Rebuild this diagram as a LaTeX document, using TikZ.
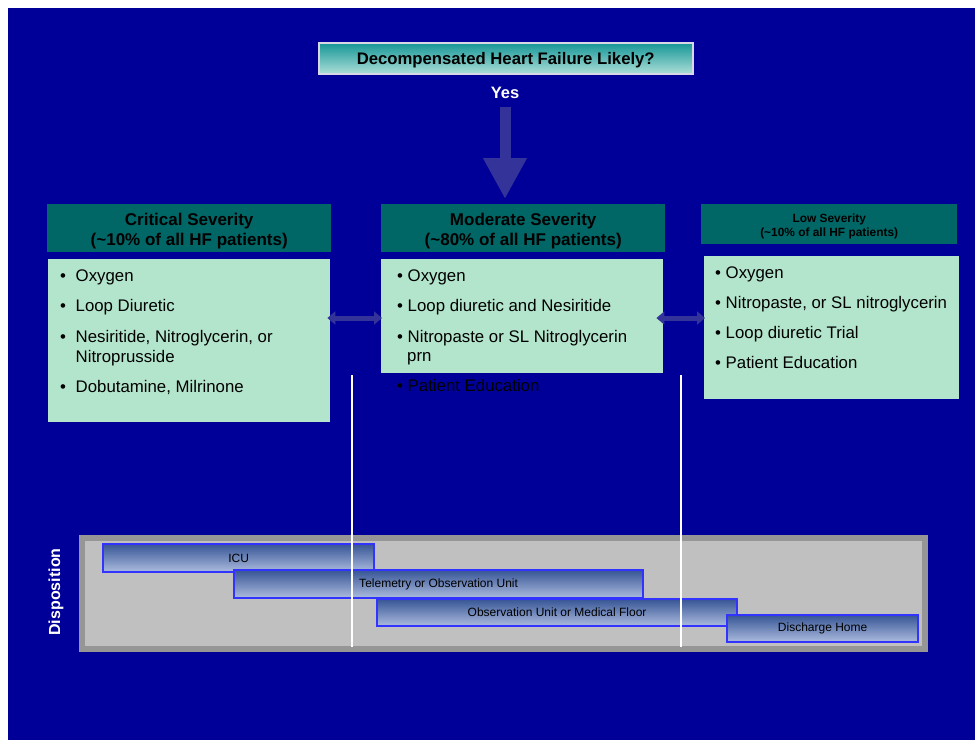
\documentclass[tikz,border=0pt]{standalone}
\usepackage{fontspec}
\setmainfont{Liberation Sans}
\usetikzlibrary{arrows.meta}
\definecolor{bgblue}{RGB}{0,0,153}
\definecolor{hdrteal}{RGB}{0,102,102}
\definecolor{mint}{RGB}{179,229,204}
\definecolor{arrcol}{RGB}{51,51,153}
\definecolor{barblue}{RGB}{51,51,255}
\definecolor{bartop}{RGB}{55,85,150}
\definecolor{barbot}{RGB}{172,188,222}
\definecolor{toptop}{RGB}{20,150,150}
\definecolor{topbot}{RGB}{172,222,216}
\definecolor{panelout}{RGB}{150,150,150}
\definecolor{panelin}{RGB}{192,192,192}
\begin{document}
\begin{tikzpicture}[x=1pt,y=-1pt,
  txt/.style={font=\fontsize{16.8}{19}\selectfont, text=black, inner sep=0pt, anchor=base west},
  hdr/.style={fill=hdrteal, inner sep=0pt, anchor=north west},
  hdrtxt/.style={font=\bfseries\fontsize{17}{20}\selectfont, align=center, inner sep=0pt, text=black},
  body/.style={fill=mint, inner sep=0pt, anchor=north west},
  bar/.style={draw=barblue, line width=2.2pt, top color=bartop, bottom color=barbot, inner sep=0pt, anchor=north west, font=\fontsize{12}{14}\selectfont, text=black},
  dbl/.style={draw=arrcol, line width=5pt, {Triangle[width=13pt,length=8pt]}-{Triangle[width=13pt,length=8pt]}},
  whiteline/.style={draw=white, line width=2pt}
]
\useasboundingbox (0,0) rectangle (975,740);
\fill[white] (0,0) rectangle (975,740);
\fill[bgblue] (8,8) rectangle (975,740);

% top question
\node[draw={rgb,255:red,215;green,215;blue,230}, line width=1.5pt, top color=toptop, bottom color=topbot,
      minimum width=374pt, minimum height=31pt, inner sep=0pt, anchor=north west] (q) at (318,42) {};
\node[font=\bfseries\fontsize{16.7}{19}\selectfont, inner sep=0pt, text=black] (qt) at ([yshift=-1.5pt]q.center) {Decompensated Heart Failure Likely?};
\node[font=\bfseries\fontsize{16.5}{19}\selectfont, text=white, inner sep=0pt] (yes) at (505,93) {Yes};

% headers
\node[hdr, minimum width=284pt, minimum height=48pt] (crith) at (47,204) {};
\node[hdrtxt] (critt) at ([yshift=-2.5pt]crith.center) {Critical Severity\\(\textasciitilde10\% of all HF patients)};
\node[hdr, minimum width=284pt, minimum height=48pt] (modh) at (381,204) {};
\node[hdrtxt] (modt) at ([yshift=-2.5pt]modh.center) {Moderate Severity\\(\textasciitilde80\% of all HF patients)};
\node[hdr, minimum width=256pt, minimum height=40pt] (lowh) at (701,204) {};
\node[hdrtxt, font=\bfseries\fontsize{11.9}{14.3}\selectfont] (lowt) at ([yshift=-2pt]lowh.center) {Low Severity\\(\textasciitilde10\% of all HF patients)};

% big arrow
\draw[draw=arrcol, line width=11pt, -{Triangle[width=41pt,length=41pt]}, shorten <=8pt, shorten >=5pt]
  (yes.south) -- (yes.south |- modh.north);

% bodies
\node[body, minimum width=282pt, minimum height=163pt] (critb) at (48,259) {};
\node[body, minimum width=282pt, minimum height=114pt] (modb) at (381,259) {};
\node[body, minimum width=255pt, minimum height=143pt] (lowb) at (704,256) {};

% critical items
\node[txt] (c1b) at (60,281) {\textbullet};
\node[txt] (c1) at (75.5,281) {Oxygen};
\node[txt] (c2b) at (60,311) {\textbullet};
\node[txt] (c2) at (75.5,311) {Loop Diuretic};
\node[txt] (c3b) at (60,342) {\textbullet};
\node[txt] (c3) at (75.5,342) {Nesiritide, Nitroglycerin, or};
\node[txt] (c3x) at (75.5,362) {Nitroprusside};
\node[txt] (c4b) at (60,392) {\textbullet};
\node[txt] (c4) at (75.5,392) {Dobutamine, Milrinone};

% moderate items
\node[txt] (m1) at (397,281) {\textbullet\ Oxygen};
\node[txt] (m2) at (397,311) {\textbullet\ Loop diuretic and Nesiritide};
\node[txt] (m3) at (397,342) {\textbullet\ Nitropaste or SL Nitroglycerin};
\node[txt] (m3x) at (407,361) {prn};
\node[txt] (m4) at (397,391) {\textbullet\ Patient Education};

% low items
\node[txt] (l1) at (715,278) {\textbullet\ Oxygen};
\node[txt] (l2) at (715,308) {\textbullet\ Nitropaste, or SL nitroglycerin};
\node[txt] (l3) at (715,338) {\textbullet\ Loop diuretic Trial};
\node[txt] (l4) at (715,368) {\textbullet\ Patient Education};

% double arrows
\draw[dbl, shorten <=-3pt, shorten >=-1pt] (critb.east |- 0,318) -- (modb.west |- 0,318);
\draw[dbl, shorten <=-7pt, shorten >=-1pt] (modb.east |- 0,318) -- (lowb.west |- 0,318);

% disposition panel
\node[fill=panelout, minimum width=849pt, minimum height=117pt, inner sep=0pt, anchor=north west] (pano) at (79,535) {};
\node[fill=panelin, minimum width=837pt, minimum height=105pt, inner sep=0pt, anchor=north west] (pani) at (85,541) {};
\node[rotate=90, font=\bfseries\fontsize{16}{19}\selectfont, text=white, inner sep=0pt] (disp) at (56,592) {Disposition};

\node[bar, minimum width=271pt, minimum height=28pt] (icu) at (102,543) {ICU};
\node[bar, minimum width=409pt, minimum height=28pt] (tele) at (233,569) {Telemetry or Observation Unit};
\node[bar, minimum width=360pt, minimum height=27pt] (obs) at (376,598) {Observation Unit or Medical Floor};
\node[bar, minimum width=191pt, minimum height=27pt] (home) at (726,614) {Discharge Home};

% white lines
\coordinate (w1t) at (352,375);
\coordinate (w1b) at (352,647);
\coordinate (w2t) at (681,375);
\coordinate (w2b) at (681,647);
\draw[whiteline] (w1t) -- (w1b);
\draw[whiteline] (w2t) -- (w2b);
\end{tikzpicture}
\end{document}
